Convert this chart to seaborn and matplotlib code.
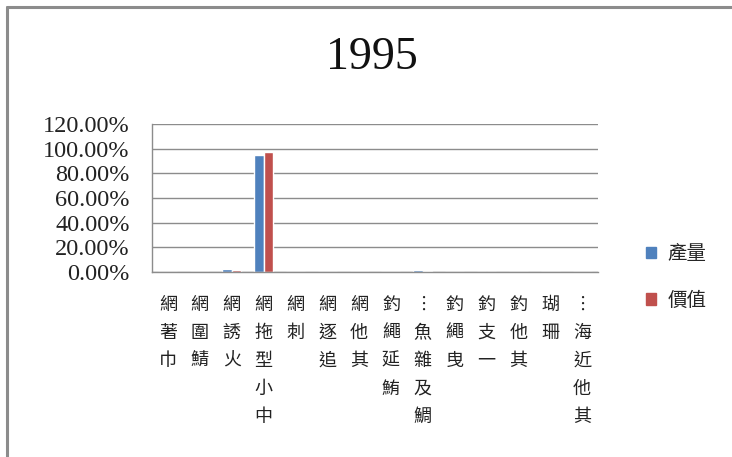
import matplotlib
matplotlib.use("Agg")
import matplotlib.pyplot as plt
import matplotlib.patches as mpatches
from matplotlib.lines import Line2D
from matplotlib.ticker import FuncFormatter, MultipleLocator
import seaborn as sns
import pandas as pd

# 1995 fishing methods: share of catch volume and value
categories = ["巾著網", "鯖圍網", "火誘網", "中小型拖網", "刺網", "追逐網", "其他網",
              "鮪延繩釣", "鯛及雜魚…", "曳繩釣", "一支釣", "其他釣", "珊瑚", "其他近海…"]
volume_share = [0.0, 0.0, 0.024, 0.949, 0.0, 0.0, 0.0, 0.0, 0.013, 0.0, 0.0, 0.0, 0.0, 0.0]
value_share = [0.0, 0.0, 0.014, 0.970, 0.0, 0.0, 0.0, 0.0, 0.012, 0.0, 0.0, 0.0, 0.0, 0.0]
series_names = ["產量", "價值"]
colors = ["#4F81BD", "#C0504D"]
title = "1995"

df = pd.DataFrame({
    "category": categories * 2,
    "share": volume_share + value_share,
    "series": [series_names[0]] * len(categories) + [series_names[1]] * len(categories),
})

sns.set_theme(style="white")
cjk = ["Noto Sans CJK TC", "DejaVu Sans"]
serif = ["Liberation Serif", "DejaVu Serif"]
plt.rcParams["font.family"] = cjk

fig = plt.figure(figsize=(7.32, 4.57), dpi=100)
ax = fig.add_axes([152 / 732, 1 - 272 / 457, (598 - 152) / 732, (272 - 124) / 457])

sns.barplot(data=df, x="category", y="share", hue="series", order=categories,
            hue_order=series_names, palette=colors, width=0.6, saturation=1,
            ax=ax, legend=False)

ax.set_ylim(0, 1.2)
ax.set_xlim(-0.5, len(categories) - 0.5)
ax.yaxis.set_major_locator(MultipleLocator(0.2))
ax.yaxis.set_major_formatter(FuncFormatter(lambda v, _: f"{v * 100:.2f}%"))
ax.grid(axis="y", color="#8c8c8c", linewidth=1.0)
ax.set_axisbelow(True)
for side in ("top", "right"):
    ax.spines[side].set_visible(False)
for side in ("left", "bottom"):
    ax.spines[side].set_color("#8c8c8c")
    ax.spines[side].set_linewidth(1.0)
ax.set_xlabel("")
ax.set_ylabel("")

for t in ax.get_yticklabels():
    t.set_family(serif)
    t.set_fontsize(17.5)
    t.set_color("#222222")
ax.tick_params(axis="y", length=0, pad=16)

# stacked vertical category labels, read from bottom to top
stacked = ["\n".join(reversed(c.replace("…", "︙"))) for c in categories]
ax.set_xticks(range(len(categories)))
ax.set_xticklabels(stacked, fontsize=13, color="#222222", va="top")
for t in ax.get_xticklabels():
    t.set_linespacing(1.72)
ax.tick_params(axis="x", length=0, pad=17)

fig.text(372 / 732, 1 - 58 / 457, title, family=serif, fontsize=33,
         ha="center", va="center", color="#111111")

handles = [mpatches.Patch(color=c, label=n) for c, n in zip(colors, series_names)]
fig.legend(handles=handles, loc="center left", bbox_to_anchor=(628 / 732, 1 - 277 / 457),
           frameon=False, handlelength=0.55, handleheight=0.55, handletextpad=0.6,
           labelspacing=1.3, prop={"family": cjk, "size": 14})

# outer chart frame
fig.add_artist(Line2D([7 / 732, 7 / 732], [0, 1 - 7 / 457], transform=fig.transFigure,
                      color="#8c8c8c", linewidth=2.2))
fig.add_artist(Line2D([7 / 732, 1], [1 - 7 / 457, 1 - 7 / 457], transform=fig.transFigure,
                      color="#8c8c8c", linewidth=2.2))

fig.savefig("out.png", dpi=100)
